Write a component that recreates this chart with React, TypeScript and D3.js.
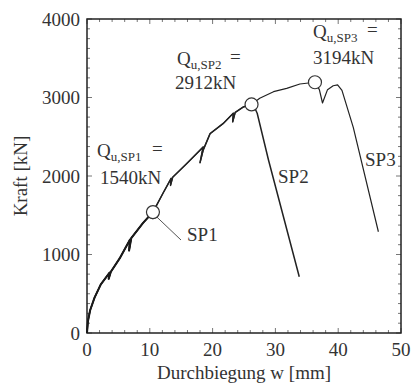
import React from 'react';
import * as d3 from 'd3';

type P = [number, number];

const xTicks = [0, 10, 20, 30, 40, 50];
const yTicks = [0, 1000, 2000, 3000, 4000];

// common rising branch (deflection mm, force kN)
const riseA: P[] = [
  [0, 0], [0.15, 150], [0.5, 290], [1.2, 450], [2.2, 620], [3.6, 770], [3.45, 690], [3.8, 780],
  [5.2, 950], [6.85, 1190], [6.7, 1050], [7.05, 1210], [8.9, 1400], [10.5, 1540],
];
const riseB: P[] = [
  [12.1, 1780], [13.4, 1970], [13.3, 1880], [13.65, 1985], [15.9, 2160], [18.5, 2370], [18.0, 2170],
  [18.5, 2330], [19.6, 2540], [21.7, 2670], [23.3, 2800], [23.2, 2690], [23.6, 2810], [24.9, 2880],
  [26.2, 2912],
];
const riseC: P[] = [
  [27.5, 2990], [29.7, 3074], [31.8, 3117], [33.9, 3172], [36.3, 3194],
];
const sp1Tail: P[] = [[10.4, 1450]];
const sp2Tail: P[] = [[26.7, 2870], [27.1, 2800], [28.9, 2204], [33.8, 717]];
const sp3Tail: P[] = [
  [37.0, 3100], [37.5, 2930], [38.3, 3100], [39.2, 3150], [39.9, 3160], [40.6, 3090], [42.4, 2620], [46.4, 1290],
];

const sp1: P[] = [...riseA, ...sp1Tail];
const sp2: P[] = [...riseA, ...riseB, ...sp2Tail];
const sp3: P[] = [...riseA, ...riseB, ...riseC, ...sp3Tail];

const peakNames = ['SP1', 'SP2', 'SP3'];
const peakX = [10.5, 26.2, 36.3];
const peakF = [1540, 2912, 3194];

export default function App() {
  const W = 411, H = 383;
  const x = d3.scaleLinear().domain([0, 50]).range([87, 401]);
  const y = d3.scaleLinear().domain([0, 4000]).range([333, 19]);
  const line = d3.line<P>().x(d => x(d[0])).y(d => y(d[1]));

  const xMinor = d3.range(0, 50.001, 2).filter(v => v % 10 !== 0);
  const yMinor = d3.range(0, 4000.1, 125).filter(v => v % 1000 !== 0);
  const font = '"Liberation Serif", "Times New Roman", serif';
  const tc = '#333';
  const [x0, x1] = x.range();
  const [y0, y1] = y.range();

  const annos = [
    { qx: 97, qy: 157, ex: 152, nx: 100, ny: 184 },
    { qx: 177, qy: 65, ex: 230, nx: 175, ny: 89 },
    { qx: 313, qy: 38, ex: 367, nx: 313, ny: 64 },
  ];

  return (
    <svg width={W} height={H} style={{ position: 'absolute', left: 0, top: 0, background: '#fff' }} fontFamily={font}>
      {/* ticks */}
      <g stroke="#777" strokeWidth={1}>
        {xMinor.map(v => (
          <g key={'xm' + v}>
            <line x1={x(v)} x2={x(v)} y1={y0} y2={y0 - 3} />
            <line x1={x(v)} x2={x(v)} y1={y1} y2={y1 + 3} />
          </g>
        ))}
        {xTicks.map(v => (
          <g key={'xM' + v}>
            <line x1={x(v)} x2={x(v)} y1={y0} y2={y0 - 5} />
            <line x1={x(v)} x2={x(v)} y1={y1} y2={y1 + 5} />
          </g>
        ))}
        {yMinor.map(v => (
          <g key={'ym' + v}>
            <line x1={x0} x2={x0 + 3} y1={y(v)} y2={y(v)} />
            <line x1={x1} x2={x1 - 3} y1={y(v)} y2={y(v)} />
          </g>
        ))}
        {yTicks.map(v => (
          <g key={'yM' + v}>
            <line x1={x0} x2={x0 + 5} y1={y(v)} y2={y(v)} />
            <line x1={x1} x2={x1 - 5} y1={y(v)} y2={y(v)} />
          </g>
        ))}
      </g>
      <rect x={x0} y={y1} width={x1 - x0} height={y0 - y1} fill="none" stroke="#222" strokeWidth={1.5} />

      {/* tick labels */}
      <g fill={tc} fontSize={19}>
        {xTicks.map(v => (
          <text key={'xl' + v} x={x(v)} y={356} textAnchor="middle">{v}</text>
        ))}
        {yTicks.map(v => (
          <text key={'yl' + v} x={80} y={y(v)} textAnchor="end" dominantBaseline="central">{v}</text>
        ))}
      </g>
      <text x={(x0 + x1) / 2} y={379} textAnchor="middle" fontSize={19} fill={tc}>Durchbiegung w [mm]</text>
      <text transform={`translate(27,${(y0 + y1) / 2}) rotate(-90)`} textAnchor="middle" fontSize={19} fill={tc}>Kraft [kN]</text>

      {/* curves */}
      <path d={line(sp3) || ''} fill="none" stroke="#222" strokeWidth={1.2} strokeLinejoin="round" />
      <path d={line(sp2) || ''} fill="none" stroke="#222" strokeWidth={1.5} strokeLinejoin="round" />
      <path d={line(sp1) || ''} fill="none" stroke="#1a1a1a" strokeWidth={2} strokeLinejoin="round" />

      {/* SP1 leader */}
      <line x1={x(peakX[0]) + 4} y1={y(peakF[0]) + 5} x2={181} y2={240} stroke="#555" strokeWidth={1} />

      {peakX.map((px, i) => (
        <circle key={'c' + i} cx={x(px)} cy={y(peakF[i])} r={6.5} fill="#fff" stroke="#333" strokeWidth={1.2} />
      ))}

      {/* curve labels */}
      <g fontSize={19} fill={tc}>
        <text x={187} y={241}>{peakNames[0]}</text>
        <text x={278} y={183}>{peakNames[1]}</text>
        <text x={365} y={166}>{peakNames[2]}</text>
      </g>

      {/* peak annotations */}
      {annos.map((a, i) => (
        <g key={'a' + i} fill={tc}>
          <text x={a.qx} y={a.qy} fontSize={19}>
            Q<tspan fontSize={13} dy={4}>{'u,' + peakNames[i]}</tspan>
          </text>
          <text x={a.ex} y={a.qy - 2} fontSize={19}>=</text>
          <text x={a.nx} y={a.ny} fontSize={19}>{peakF[i] + 'kN'}</text>
        </g>
      ))}
    </svg>
  );
}
